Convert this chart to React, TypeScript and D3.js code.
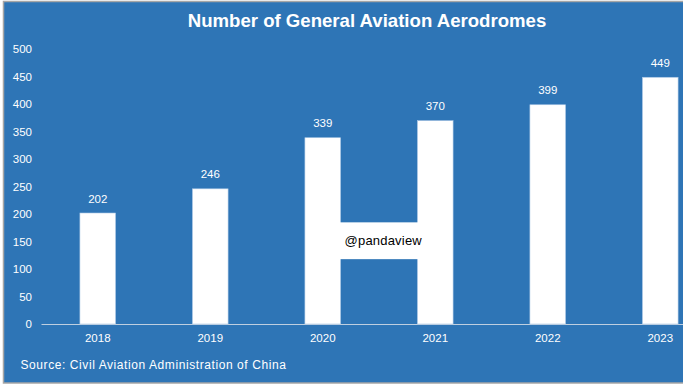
import React from "react";
import * as d3 from "d3";

const years = ["2018", "2019", "2020", "2021", "2022", "2023"];
const counts = [202, 246, 339, 370, 399, 449];
const yTicks = [0, 50, 100, 150, 200, 250, 300, 350, 400, 450, 500];
const title = "Number of General Aviation Aerodromes";
const source = "Source: Civil Aviation Administration of China";
const watermark = "@pandaview";
const watermarkBand = [118, 185];

const W = 683;
const H = 385;
const BG = "#2E75B6";
const FONT = "'Liberation Sans', Arial, sans-serif";

export default function App() {
  const x = d3
    .scaleBand<string>()
    .domain(years)
    .range([41.5, 716.5])
    .paddingInner(0.683)
    .paddingOuter(0.3415);
  const y = d3.scaleLinear().domain([0, 500]).range([324, 49.25]);
  const bw = x.bandwidth();
  const wmX0 = (x("2020") as number) + bw;
  const wmX1 = x("2021") as number;

  return (
    <svg
      width={W}
      height={H}
      style={{ position: "fixed", left: 0, top: 0, display: "block" }}
      fontFamily={FONT}
    >
      <rect x={0} y={0} width={W} height={H} fill="#ffffff" />
      <rect x={3.5} y={1.5} width={W + 10} height={381.5} fill={BG} stroke="#a6a6a6" strokeWidth={1.5} />
      <text x={367} y={27} textAnchor="middle" fill="#ffffff" fontSize={18.6} fontWeight="bold">
        {title}
      </text>
      {yTicks.map((t) => (
        <text key={t} x={32} y={y(t)} dy="0.35em" textAnchor="end" fill="#ffffff" fontSize={11.5}>
          {t}
        </text>
      ))}
      <line x1={41.5} x2={W} y1={y(0) + 0.5} y2={y(0) + 0.5} stroke="#bfcfe0" strokeWidth={1} />
      {years.map((yr, i) => (
        <g key={yr}>
          <rect
            x={x(yr)}
            y={y(counts[i])}
            width={bw}
            height={y(0) - y(counts[i])}
            fill="#ffffff"
            stroke="#a9c6e4"
            strokeWidth={0.6}
          />
          <text
            x={(x(yr) as number) + bw / 2}
            y={y(counts[i]) - 10.5}
            textAnchor="middle"
            fill="#ffffff"
            fontSize={11.5}
          >
            {counts[i]}
          </text>
          <text
            x={(x(yr) as number) + bw / 2}
            y={341.5}
            textAnchor="middle"
            fill="#ffffff"
            fontSize={11.5}
          >
            {yr}
          </text>
        </g>
      ))}
      <rect
        x={wmX0 - 1}
        width={wmX1 - wmX0 + 2}
        y={y(watermarkBand[1])}
        height={y(watermarkBand[0]) - y(watermarkBand[1])}
        fill="#ffffff"
      />
      <text x={wmX0 + 4} y={245} fill="#000000" fontSize={13} letterSpacing={0.2}>
        {watermark}
      </text>
      <text x={20.5} y={369} fill="#ffffff" fontSize={12} letterSpacing={0.58}>
        {source}
      </text>
    </svg>
  );
}
